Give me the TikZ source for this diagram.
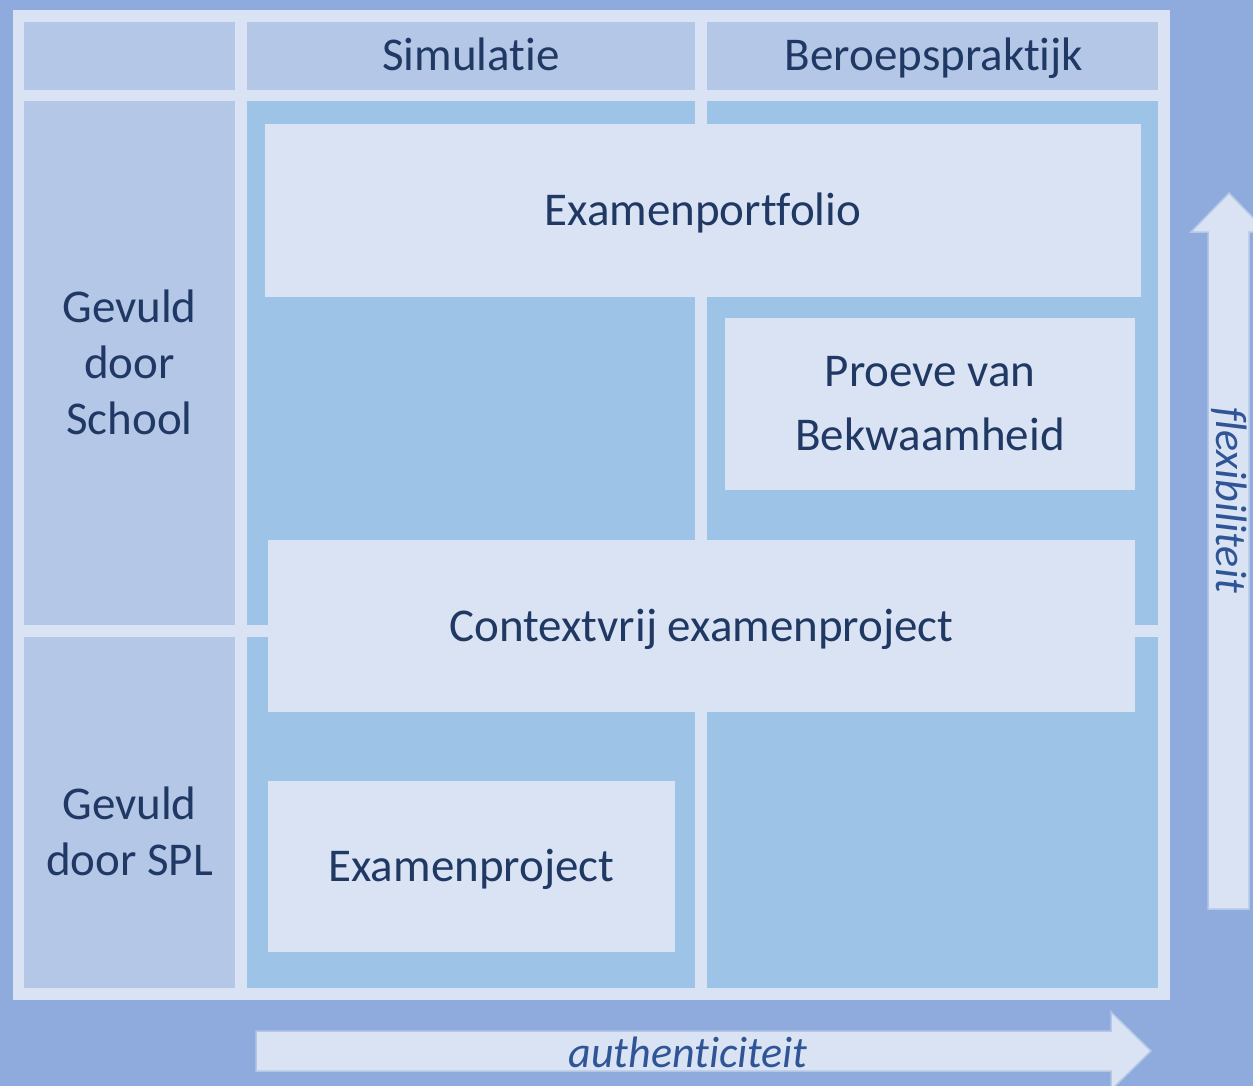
\documentclass[tikz,border=0pt]{standalone}
\usepackage{fontspec}
\setmainfont{Carlito}[Ligatures=NoCommon]
\definecolor{bgblue}{RGB}{143,170,220}
\definecolor{paleblue}{RGB}{218,227,243}
\definecolor{headblue}{RGB}{180,199,231}
\definecolor{cellblue}{RGB}{157,195,230}
\definecolor{textblue}{RGB}{32,56,100}
\definecolor{arrowtext}{RGB}{47,85,151}
\usetikzlibrary{positioning}
\tikzset{
  every node/.style={font=\fontsize{23.5}{28}\selectfont, text=textblue, align=center},
  headcell/.style={fill=headblue, inner sep=0},
  areacell/.style={fill=cellblue, inner sep=0},
  exambox/.style={fill=paleblue, inner sep=0, text height=18pt, text depth=3pt},
  flowarrow/.style={fill=paleblue, draw=headblue, line width=0.75pt},
  arrowlabel/.style={font=\fontsize{22}{26}\selectfont\itshape, text=arrowtext}
}

\begin{document}
\begin{tikzpicture}[x=0.5pt,y=-0.5pt]

    \fill [bgblue] (0,0) rectangle (1253,1086);
    \useasboundingbox (0,0) rectangle (1253,1086);
    \clip (0,0) rectangle (1253,1086);
    \fill [paleblue] (13,10) rectangle (1170,1000);

    % header row and row headers
    \node [headcell, minimum width=105.5pt, minimum height=34pt] (corner) at (129.5,56) {};
    \node [headcell, minimum width=224pt, minimum height=34pt] (sim) at (471,56) {};
    \node [headcell, minimum width=225.5pt, minimum height=34pt] (beroep) at (932.5,56) {};
    \node [anchor=base] (simtext) at (471,71) {Simulatie};
    \node [anchor=base] (beroeptext) at (934,71) {Beroepspraktijk};
    \node [headcell, minimum width=105.5pt, minimum height=262pt] (school) at (129.5,363) {};
    \node (schooltext) at (129.5,362) {Gevuld\\door\\School};
    \node [headcell, minimum width=105.5pt, minimum height=175.5pt] (spl) at (129.5,812.5) {};
    \node (spltext) at (129.5,831) {Gevuld\\door SPL};

    % area cells
    \node [areacell, minimum width=224pt, minimum height=262pt] (simtop) at (471,363) {};
    \node [areacell, minimum width=225.5pt, minimum height=262pt] (beroeptop) at (932.5,363) {};
    \node [areacell, minimum width=224pt, minimum height=175.5pt] (simbot) at (471,812.5) {};
    \node [areacell, minimum width=225.5pt, minimum height=175.5pt] (beroepbot) at (932.5,812.5) {};

    % exam forms
    \node [exambox, minimum width=438pt, minimum height=86.5pt] (portfolio) at (703,210.5)
          {Examenportfolio};
    \node [exambox, minimum width=205pt, minimum height=86pt, text height=, text depth=,
           font=\fontsize{23.5}{32}\selectfont] (proeve) at (930,404)
          {Proeve van\\Bekwaamheid};
    \node [exambox, minimum width=433.5pt, minimum height=86pt] (contextvrij) at (701.5,626)
          {Contextvrij examenproject};
    \node [exambox, minimum width=203.5pt, minimum height=85.5pt] (project) at (471.5,866.5)
          {Examenproject};

    % axes
    \filldraw [flowarrow] (256,1031) -- (1111,1031) -- (1111,1012) -- (1151,1051)
          -- (1111,1090) -- (1111,1071) -- (256,1071) -- cycle;
    \filldraw [flowarrow] (1208,909) -- (1208,232) -- (1191,232) -- (1229,193)
          -- (1267,232) -- (1249,232) -- (1249,909) -- cycle;
    \node [arrowlabel] (auth) at (688,1052) {authenticiteit};
    \node [arrowlabel, rotate=-90] (flex) at (1229,500) {flexibiliteit};

\end{tikzpicture}
\end{document}
